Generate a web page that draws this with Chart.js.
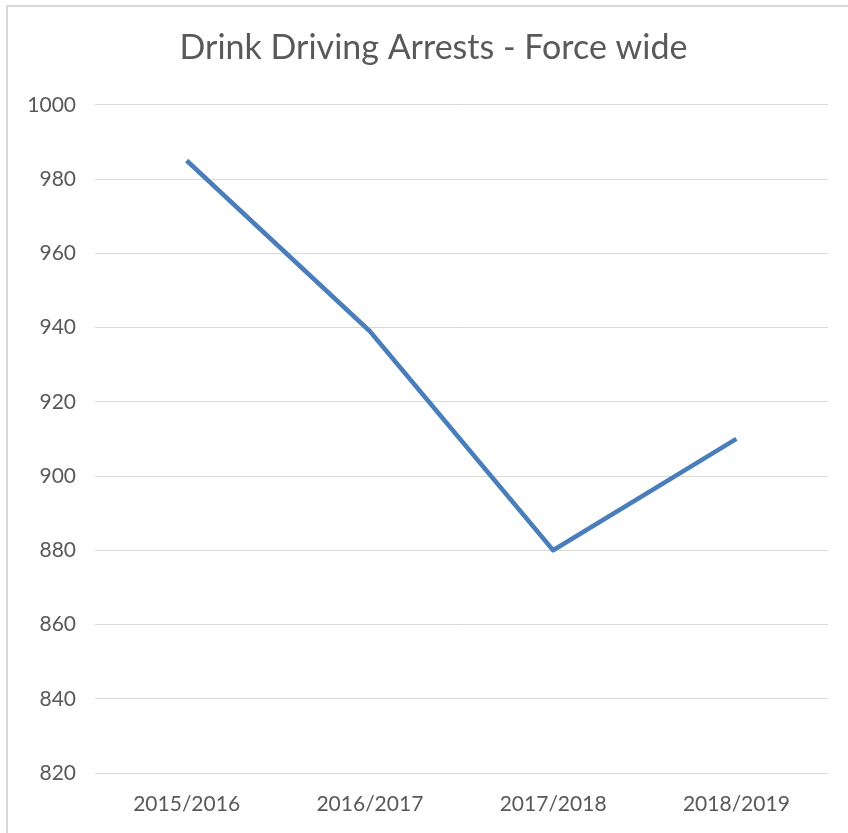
<!DOCTYPE html>
<html>
<head>
<meta charset="utf-8">
<script src="https://cdn.jsdelivr.net/npm/chart.js@4"></script>
<style>
  html, body { margin: 0; padding: 0; background: #fff; overflow: hidden; }
  #frame { position: absolute; left: 6px; top: 5px; border: 2px solid #d9d9d9; width: 851px; height: 840px; }
  canvas { display: block; }
</style>
</head>
<body>
<div id="frame"><canvas id="grafico" width="851" height="840"></canvas></div>
<script>
// data
const anos = ['2015/2016', '2016/2017', '2017/2018', '2018/2019'];
const prisoes = [985, 939, 880, 910];
const tituloTexto = 'Drink Driving Arrests - Force wide';
const eixoMin = 820;
const eixoMax = 1000;
const eixoPasso = 20;

const corTexto = '#595959';
const corGrade = '#d9d9d9';
const fonte = 'Lato, "Open Sans", sans-serif';

var grafico = document.getElementById('grafico');
new Chart(grafico, {
    type: 'line',
    data: {
        labels: anos,
        datasets: [{
            label: 'Arrests',
            data: prisoes,
            borderColor: '#4a7ebb',
            backgroundColor: '#4a7ebb',
            borderWidth: 4.5,
            borderJoinStyle: 'round',
            pointRadius: 0,
            tension: 0,
            fill: false
        }]
    },
    options: {
        responsive: false,
        animation: false,
        devicePixelRatio: 1,
        layout: { padding: 0 },
        plugins: {
            legend: { display: false },
            tooltip: { enabled: false },
            title: {
                display: true,
                text: tituloTexto,
                color: corTexto,
                font: { family: fonte, size: 34, weight: 'normal', lineHeight: 1.2 },
                padding: { top: 21, bottom: 36 }
            }
        },
        scales: {
            x: {
                offset: true,
                grid: { display: false },
                border: { display: false },
                ticks: {
                    color: corTexto,
                    font: { family: fonte, size: 21 },
                    padding: 11,
                    maxRotation: 0
                },
                afterFit: function (s) { s.height = 74; }
            },
            y: {
                min: eixoMin,
                max: eixoMax,
                grid: { color: corGrade, lineWidth: 1, drawTicks: false },
                border: { display: false },
                ticks: {
                    stepSize: eixoPasso,
                    color: corTexto,
                    font: { family: fonte, size: 21 },
                    padding: 19,
                    callback: function (v) { return String(v); }
                },
                afterFit: function (s) { s.width = 87; }
            },
            // empty right axis, only to leave the white strip on the right
            // (layout padding would push the title off centre)
            direita: {
                position: 'right',
                grid: { display: false },
                border: { display: false },
                ticks: { display: false },
                afterFit: function (s) { s.width = 31; }
            }
        }
    }
});
</script>
</body>
</html>
